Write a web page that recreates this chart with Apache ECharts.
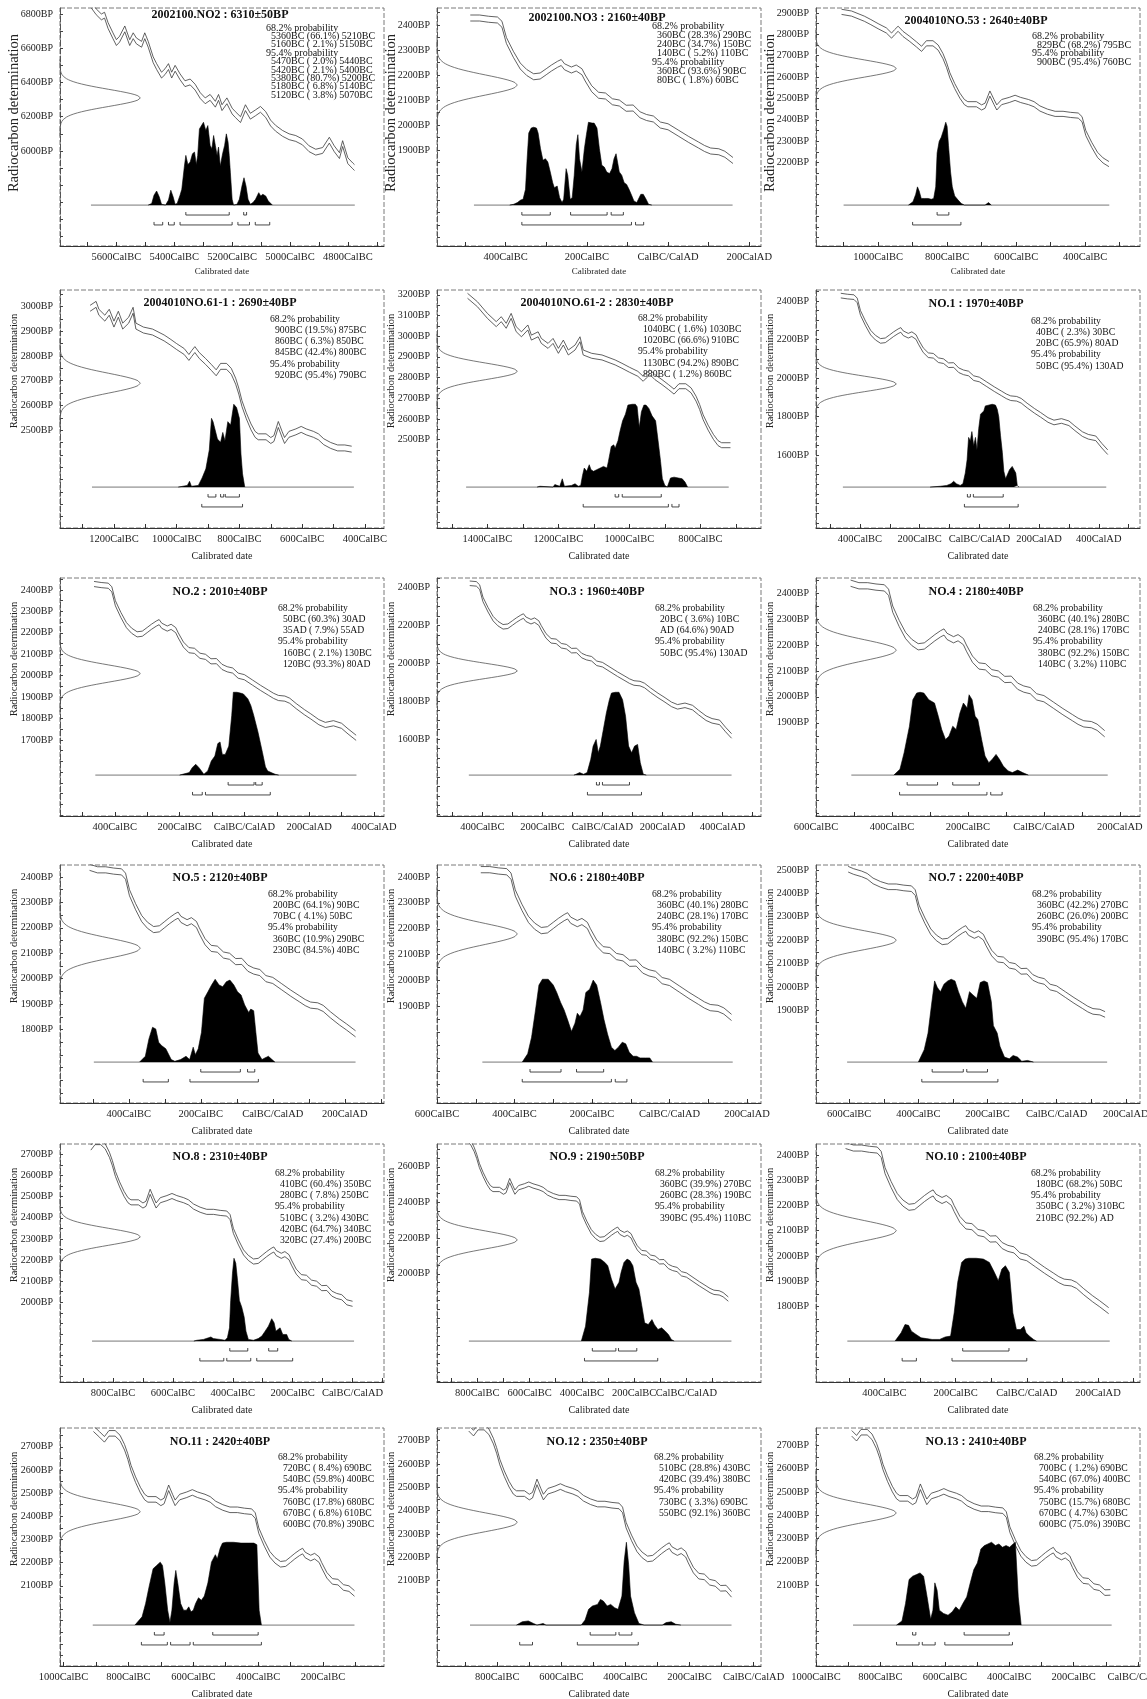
<!DOCTYPE html>
<html><head><meta charset="utf-8">
<script src="https://cdn.jsdelivr.net/npm/echarts@6.0.0/dist/echarts.min.js"></script>
<style>html,body{margin:0;padding:0;background:#fff}#chart{width:1147px;height:1699px}</style>
</head><body><div id="chart"></div>
<script>
// ---------------- DATA ----------------
const sampleNames = ['2002100.NO2','2002100.NO3','2004010NO.53','2004010NO.61-1','2004010NO.61-2','NO.1','NO.2','NO.3','NO.4','NO.5','NO.6','NO.7','NO.8','NO.9','NO.10','NO.11','NO.12','NO.13'];
const bpMeans  = [6310,2160,2640,2690,2830,1970,2010,1960,2180,2120,2180,2200,2310,2190,2100,2420,2350,2410];
const bpErrors = [50,40,40,40,40,40,40,40,40,40,40,40,40,50,40,40,40,40];

// ranges: [from, percent, to]  (negative = BC)
const ranges68 = [
 [[-5360,66.1,-5210],[-5160,2.1,-5150]],
 [[-360,28.3,-290],[-240,34.7,-150],[-140,5.2,-110]],
 [[-829,68.2,-795]],
 [[-900,19.5,-875],[-860,6.3,-850],[-845,42.4,-800]],
 [[-1040,1.6,-1030],[-1020,66.6,-910]],
 [[-40,2.3,-30],[-20,65.9,80]],
 [[-50,60.3,30],[35,7.9,55]],
 [[-20,3.6,-10],[0,64.6,90]],
 [[-360,40.1,-280],[-240,28.1,-170]],
 [[-200,64.1,-90],[-70,4.1,-50]],
 [[-360,40.1,-280],[-240,28.1,-170]],
 [[-360,42.2,-270],[-260,26.0,-200]],
 [[-410,60.4,-350],[-280,7.8,-250]],
 [[-360,39.9,-270],[-260,28.3,-190]],
 [[-180,68.2,-50]],
 [[-720,8.4,-690],[-540,59.8,-400]],
 [[-510,28.8,-430],[-420,39.4,-380]],
 [[-700,1.2,-690],[-540,67.0,-400]]
];
const ranges95 = [
 [[-5470,2.0,-5440],[-5420,2.1,-5400],[-5380,80.7,-5200],[-5180,6.8,-5140],[-5120,3.8,-5070]],
 [[-360,93.6,-90],[-80,1.8,-60]],
 [[-900,95.4,-760]],
 [[-920,95.4,-790]],
 [[-1130,94.2,-890],[-880,1.2,-860]],
 [[-50,95.4,130]],
 [[-160,2.1,-130],[-120,93.3,80]],
 [[-50,95.4,130]],
 [[-380,92.2,-150],[-140,3.2,-110]],
 [[-360,10.9,-290],[-230,84.5,-40]],
 [[-380,92.2,-150],[-140,3.2,-110]],
 [[-390,95.4,-170]],
 [[-510,3.2,-430],[-420,64.7,-340],[-320,27.4,-200]],
 [[-390,95.4,-110]],
 [[-350,3.2,-310],[-210,92.2,0]],
 [[-760,17.8,-680],[-670,6.8,-610],[-600,70.8,-390]],
 [[-730,3.3,-690],[-550,92.1,-360]],
 [[-750,15.7,-680],[-670,4.7,-630],[-600,75.0,-390]]
];

// axes
const xMins = [-5795,-569,-1180,-1372,-1542,-547,-569,-551,-600,-591,-600,-696,-977,-954,-592,-1011,-988,-1000];
const xMaxs = [-4675,229,-241,-339,-629,538,431,528,253,309,236,241,105,285,318,-12,23,6];
const yMins = [5445,1516,1810,2104,2073,1223,1345,1193,1541,1511,1528,1505,1623,1393,1500,1754,1734,1751];
const yMaxs = [6835,2468,2923,3067,3223,2457,2456,2451,2458,2447,2446,2521,2749,2728,2444,2781,2754,2776];
const yLabelFrom = [6000,1900,2200,2500,2500,1600,1700,1600,1900,1800,1900,1900,2000,2000,1800,2100,2100,2100];
const yLabelStep = [200,100,100,100,100,200,100,200,100,100,100,100,100,200,100,100,100,100];
// plotted calendar span (curve + baseline)
const spanStarts = [-5688,-478,-1100,-1270,-1460,-457,-460,-445,-507,-497,-483,-606,-870,-832,-504,-910,-885,-885];
const spanEnds   = [-4776,159,-330,-435,-720,425,346,430,168,230,163,146,5,172,233,-103,-69,-82];

// calibration curve (mid values, BP) and its 1-sigma
const calCurveEarly = [[-5687,6853],[-5670,6813],[-5652,6783],[-5641,6793],[-5629,6733],[-5612,6673],[-5600,6633],[-5589,6653],[-5571,6713],[-5554,6633],[-5542,6673],[-5531,6643],[-5513,6623],[-5502,6673],[-5490,6623],[-5473,6533],[-5461,6493],[-5444,6443],[-5432,6463],[-5420,6493],[-5409,6443],[-5397,6483],[-5380,6433],[-5363,6393],[-5345,6403],[-5328,6373],[-5310,6323],[-5293,6293],[-5276,6313],[-5258,6273],[-5247,6313],[-5235,6253],[-5218,6293],[-5200,6233],[-5189,6213],[-5171,6183],[-5154,6253],[-5137,6203],[-5119,6223],[-5102,6243],[-5084,6213],[-5067,6163],[-5050,6133],[-5026,6103],[-5003,6083],[-4980,6073],[-4957,6053],[-4934,6013],[-4911,5993],[-4887,6003],[-4864,6063],[-4847,6013],[-4829,5973],[-4818,6043],[-4800,5943],[-4783,5913],[-4777,5903]];
const calCurveEarlySigma = 17;
const calCurve = [[-1560,3253],[-1530,3233],[-1500,3218],[-1475,3210],[-1456,3195],[-1428,3154],[-1400,3098],[-1375,3058],[-1361,3082],[-1347,3050],[-1333,3098],[-1319,3034],[-1304,3009],[-1286,3042],[-1276,2993],[-1257,3009],[-1248,2977],[-1229,2953],[-1215,2977],[-1200,2929],[-1186,2969],[-1172,2921],[-1153,2945],[-1139,2985],[-1130,2921],[-1106,2905],[-1077,2897],[-1040,2873],[-1021,2857],[-1000,2838],[-976,2818],[-961,2794],[-952,2810],[-942,2826],[-928,2802],[-908,2778],[-889,2753],[-874,2732],[-860,2758],[-841,2758],[-826,2738],[-812,2698],[-802,2658],[-792,2608],[-778,2558],[-763,2513],[-750,2483],[-740,2473],[-715,2473],[-700,2458],[-690,2466],[-676,2523],[-664,2483],[-656,2458],[-642,2483],[-620,2493],[-603,2503],[-587,2493],[-564,2483],[-548,2473],[-531,2453],[-509,2438],[-487,2428],[-464,2428],[-442,2423],[-420,2420],[-409,2403],[-398,2338],[-381,2283],[-364,2236],[-348,2210],[-331,2193],[-315,2196],[-300,2213],[-287,2228],[-272,2243],[-263,2250],[-255,2233],[-238,2220],[-226,2228],[-212,2213],[-204,2188],[-188,2145],[-171,2119],[-154,2116],[-137,2093],[-120,2088],[-103,2067],[-86,2068],[-69,2041],[-53,2030],[-36,2024],[-19,2000],[0,1993],[25,1968],[50,1943],[75,1920],[90,1906],[105,1896],[125,1893],[140,1883],[160,1858],[185,1830],[205,1810],[230,1783],[250,1770],[275,1778],[300,1766],[320,1740],[345,1710],[365,1696],[390,1688],[410,1650],[430,1616],[445,1600]];
const calCurveSigma = 12;

// posterior distributions [year, relative height (peak = 100)]
const dist_2002100_NO2 = [[-5490,0],[-5478,2],[-5470,12],[-5461,17],[-5452,10],[-5444,1],[-5430,0],[-5420,6],[-5412,18],[-5404,10],[-5397,1],[-5390,2],[-5380,12],[-5374,19],[-5365,47],[-5360,60],[-5353,49],[-5345,52],[-5337,62],[-5330,64],[-5324,49],[-5319,60],[-5313,92],[-5307,94],[-5299,100],[-5291,90],[-5284,96],[-5276,72],[-5270,68],[-5264,84],[-5258,72],[-5252,60],[-5247,70],[-5241,47],[-5233,62],[-5226,72],[-5220,86],[-5214,76],[-5210,60],[-5206,39],[-5200,7],[-5195,0],[-5183,1],[-5175,7],[-5166,23],[-5159,33],[-5152,23],[-5145,7],[-5137,1],[-5128,3],[-5119,7],[-5108,15],[-5101,11],[-5094,13],[-5084,11],[-5075,5],[-5061,0]];
const dist_2002100_NO3 = [[-390,0],[-380,1],[-371,3],[-363,6],[-357,7],[-351,19],[-347,56],[-343,87],[-337,93],[-331,94],[-324,93],[-320,87],[-314,68],[-308,54],[-302,56],[-296,52],[-290,40],[-284,27],[-280,21],[-273,23],[-267,9],[-261,3],[-257,7],[-251,44],[-247,36],[-241,7],[-236,9],[-231,36],[-226,73],[-222,85],[-218,56],[-212,40],[-206,68],[-201,85],[-196,100],[-187,99],[-182,99],[-175,93],[-169,68],[-163,48],[-157,46],[-151,40],[-144,38],[-138,44],[-133,56],[-128,62],[-124,60],[-120,40],[-114,36],[-108,27],[-102,25],[-96,19],[-89,11],[-84,5],[-77,3],[-73,7],[-67,13],[-61,13],[-54,7],[-48,1],[-40,0]];
const dist_NO53 = [[-912,0],[-899,4],[-891,13],[-886,22],[-881,17],[-875,8],[-865,8],[-855,8],[-846,7],[-839,8],[-833,22],[-829,63],[-823,77],[-817,82],[-810,91],[-804,100],[-800,95],[-796,72],[-790,40],[-785,22],[-778,11],[-768,6],[-759,2],[-750,0],[-690,0],[-680,3],[-672,0]];
const dist_NO61_1 = [[-995,0],[-966,2],[-959,7],[-953,1],[-931,2],[-919,11],[-907,22],[-896,45],[-889,83],[-884,79],[-879,79],[-870,58],[-860,54],[-853,66],[-846,56],[-837,79],[-828,75],[-818,100],[-809,96],[-800,83],[-795,40],[-790,16],[-783,0]];
const dist_NO61_2 = [[-1260,0],[-1252,1],[-1215,0],[-1210,3],[-1205,1],[-1196,1],[-1189,10],[-1183,1],[-1163,2],[-1153,4],[-1144,1],[-1137,2],[-1132,14],[-1127,23],[-1120,19],[-1113,27],[-1108,21],[-1101,19],[-1092,21],[-1082,23],[-1073,25],[-1063,23],[-1059,31],[-1051,49],[-1044,51],[-1040,47],[-1032,56],[-1026,68],[-1019,80],[-1011,88],[-1004,99],[-992,100],[-983,100],[-978,97],[-975,84],[-972,72],[-966,91],[-959,99],[-953,99],[-945,95],[-936,86],[-926,80],[-919,56],[-912,31],[-907,10],[-900,2],[-893,0],[-884,11],[-874,12],[-862,11],[-851,10],[-843,6],[-836,0]];
const dist_NO1 = [[-165,0],[-131,1],[-109,2],[-95,4],[-86,7],[-77,4],[-64,2],[-55,4],[-47,17],[-41,33],[-36,60],[-30,56],[-25,67],[-19,50],[-13,60],[-8,45],[-2,71],[4,88],[9,90],[15,92],[20,98],[26,100],[43,100],[54,99],[60,94],[65,85],[71,62],[77,42],[82,19],[88,10],[94,12],[101,21],[110,25],[116,23],[122,17],[127,2],[133,0]];
const dist_NO2 = [[-200,0],[-170,3],[-161,9],[-150,13],[-140,9],[-125,1],[-113,5],[-102,17],[-91,23],[-82,38],[-75,40],[-68,25],[-59,25],[-48,35],[-39,72],[-34,100],[-23,100],[-12,99],[-3,98],[11,92],[20,84],[29,72],[42,52],[56,27],[65,10],[72,5],[83,3],[95,1],[106,0]];
const dist_NO3 = [[-95,0],[-88,1],[-76,3],[-63,1],[-51,3],[-39,19],[-31,35],[-21,43],[-14,27],[-7,35],[3,55],[13,75],[23,91],[30,99],[43,100],[55,100],[67,91],[77,71],[87,35],[97,27],[107,35],[117,37],[126,15],[136,1],[146,0]];
const dist_NO4 = [[-395,0],[-379,7],[-368,27],[-354,59],[-345,91],[-335,99],[-326,100],[-316,99],[-303,91],[-288,87],[-278,71],[-269,55],[-259,43],[-250,47],[-240,59],[-231,55],[-221,75],[-212,87],[-202,81],[-197,97],[-189,91],[-181,71],[-174,67],[-164,43],[-155,23],[-145,15],[-136,19],[-126,25],[-117,19],[-107,11],[-94,5],[-83,3],[-69,6],[-56,3],[-41,0]];
const dist_NO5 = [[-370,0],[-354,7],[-344,28],[-334,42],[-325,40],[-317,24],[-309,20],[-297,16],[-282,3],[-272,1],[-256,3],[-241,7],[-231,3],[-221,18],[-215,9],[-207,16],[-198,36],[-190,77],[-180,85],[-170,93],[-160,100],[-149,93],[-139,91],[-129,97],[-119,99],[-108,93],[-98,85],[-88,81],[-78,69],[-67,60],[-61,64],[-53,62],[-47,36],[-41,11],[-30,3],[-22,5],[-12,7],[-2,3],[6,0]];
const dist_NO6 = [[-380,0],[-366,10],[-356,30],[-347,59],[-337,93],[-328,100],[-313,100],[-300,93],[-291,84],[-281,72],[-272,63],[-263,51],[-253,37],[-244,47],[-238,59],[-231,55],[-223,63],[-216,84],[-206,88],[-197,99],[-188,93],[-178,72],[-169,51],[-160,34],[-150,18],[-141,14],[-132,18],[-122,24],[-113,22],[-104,12],[-94,7],[-85,7],[-76,5],[-62,5],[-51,5],[-44,0]];
const dist_NO7 = [[-400,0],[-383,15],[-372,35],[-362,69],[-353,98],[-345,90],[-336,85],[-326,94],[-315,98],[-305,100],[-294,98],[-284,85],[-273,73],[-263,65],[-252,85],[-242,81],[-231,77],[-221,96],[-210,98],[-200,96],[-189,73],[-183,44],[-172,35],[-164,19],[-151,6],[-137,4],[-126,8],[-113,6],[-101,1],[-84,2],[-67,0]];
const dist_NO8 = [[-530,0],[-520,1],[-498,2],[-481,4],[-473,5],[-465,3],[-442,2],[-426,1],[-418,4],[-411,16],[-407,49],[-401,82],[-396,100],[-390,94],[-384,73],[-378,49],[-370,41],[-362,29],[-356,12],[-348,2],[-331,1],[-315,3],[-303,6],[-292,12],[-281,18],[-270,27],[-262,22],[-256,12],[-249,14],[-242,16],[-233,8],[-227,10],[-220,8],[-213,2],[-203,0]];
const dist_NO9 = [[-402,0],[-386,18],[-371,59],[-363,99],[-349,100],[-329,99],[-312,95],[-301,91],[-287,75],[-273,63],[-258,71],[-250,83],[-239,95],[-227,99],[-216,97],[-205,91],[-193,71],[-182,63],[-171,43],[-160,22],[-146,20],[-132,26],[-123,20],[-109,14],[-95,16],[-81,12],[-69,8],[-58,2],[-47,0]];
const dist_NO10 = [[-370,0],[-353,10],[-342,20],[-332,19],[-324,12],[-311,8],[-297,4],[-282,3],[-266,2],[-245,2],[-229,5],[-214,6],[-204,34],[-194,71],[-183,95],[-173,99],[-163,100],[-142,100],[-122,99],[-105,95],[-91,83],[-80,73],[-70,87],[-60,91],[-49,83],[-39,34],[-29,14],[-18,14],[-8,18],[-2,10],[7,6],[19,2],[27,0]];
const dist_NO11 = [[-780,0],[-758,10],[-747,26],[-736,47],[-724,68],[-713,72],[-702,76],[-695,72],[-688,51],[-679,18],[-672,3],[-666,18],[-659,51],[-654,66],[-648,51],[-639,26],[-630,18],[-621,18],[-614,22],[-607,16],[-600,18],[-593,26],[-584,33],[-575,30],[-566,35],[-555,51],[-544,76],[-532,85],[-526,80],[-517,93],[-510,99],[-498,100],[-476,100],[-453,99],[-431,99],[-413,99],[-404,97],[-397,18],[-390,0]];
const dist_NO12 = [[-740,0],[-722,4],[-703,5],[-687,2],[-676,0],[-657,2],[-648,0],[-538,0],[-526,6],[-515,19],[-503,23],[-487,25],[-478,31],[-469,29],[-457,23],[-446,25],[-434,21],[-423,19],[-411,35],[-404,77],[-397,100],[-390,73],[-384,35],[-372,15],[-358,2],[-342,0],[-285,0],[-273,3],[-257,4],[-243,1],[-227,0]];
const dist_NO13 = [[-750,0],[-733,5],[-722,26],[-711,55],[-700,59],[-688,61],[-677,63],[-666,59],[-655,34],[-644,7],[-637,18],[-631,51],[-624,42],[-617,18],[-604,14],[-590,12],[-577,16],[-566,22],[-555,18],[-544,26],[-532,34],[-521,51],[-510,67],[-499,75],[-488,92],[-477,96],[-466,98],[-455,100],[-443,96],[-432,98],[-421,94],[-410,96],[-399,94],[-388,98],[-381,100],[-372,34],[-363,0]];
const distributions = [dist_2002100_NO2, dist_2002100_NO3, dist_NO53, dist_NO61_1, dist_NO61_2, dist_NO1, dist_NO2, dist_NO3, dist_NO4, dist_NO5, dist_NO6, dist_NO7, dist_NO8, dist_NO9, dist_NO10, dist_NO11, dist_NO12, dist_NO13];

// ---------------- LAYOUT ----------------
const COL_LEFT = [60, 437, 816];
const ROW_TOP = [8, 290, 578, 865, 1144, 1428];
const GRID_W = 324, GRID_H = 238;
const GAUSS_PEAK = 24.8;           // % of plot width
const DIST_MIN = -49.4, DIST_MAX = 238;
const BRACKET_ROWS = [-12, -24];
const titleDY = [7,10,13, 13,13,14, 14,14,14, 13,13,13, 13,13,13, 14,14,14];
const textDX = [206,215,216,210,201,215,218,218,217,208,215,216,215,218,215,218,217,218];
const textDY = [20,18,28, 29,28,31, 30,30,30, 29,29,29, 29,29,29, 29,29,29];
const textLH = [8.4,9,8.9, 11.3,11.3,11.3, 11.3,11.3,11.3, 11.3,11.3,11.3, 11.3,11.3,11.3, 11.3,11.3,11.3];
const SERIF = '"Liberation Serif","Times New Roman",serif';

function fmtYear(y){ return y < 0 ? (-y) + 'BC' : (y === 0 ? 'AD' : y + 'AD'); }
function fmtPct(p){ const s = p.toFixed(1); return p < 10 ? '( ' + s + '%)' : '(' + s + '%)'; }
function fmtAxisYear(v){ return v < 0 ? (-v) + 'CalBC' : (v === 0 ? 'CalBC/CalAD' : v + 'CalAD'); }
function multiples(from, to, step){ const out = []; for (let v = Math.ceil(from/step)*step; v <= to + 1e-9; v += step) out.push(v === 0 ? 0 : v); return out; }

const grids = [], xAxes = [], yAxes = [], series = [], graphics = [];

for (let i = 0; i < 18; i++) {
  const row = Math.floor(i/3), col = i % 3;
  const left = COL_LEFT[col], top = ROW_TOP[row];
  grids.push({ left: left, top: top, width: GRID_W, height: GRID_H, show: false, outerBoundsMode: 'none', containLabel: false });

  // frame (scanned, dashed look)
  graphics.push({ type: 'rect', silent: true, z: 0, shape: { x: left, y: top, width: GRID_W, height: GRID_H },
    style: { fill: 'none', stroke: '#7a7a7a', lineWidth: 1, lineDash: [5, 2] } });

  xAxes.push({
    type: 'value', gridIndex: i, min: xMins[i], max: xMaxs[i],
    axisLine: { show: true, onZero: false, lineStyle: { color: '#333', width: 1 } },
    axisTick: { show: true, inside: true, length: 4, customValues: multiples(xMins[i], xMaxs[i], 100), lineStyle: { color: '#333' } },
    axisLabel: { customValues: multiples(xMins[i], xMaxs[i], 200), formatter: fmtAxisYear, fontFamily: SERIF, fontSize: 10.5, color: '#222', margin: 6 },
    splitLine: { show: false }
  });
  xAxes.push({ type: 'value', gridIndex: i, min: 0, max: 100, show: false });

  yAxes.push({
    type: 'value', gridIndex: i, min: yMins[i], max: yMaxs[i],
    axisLine: { show: true, onZero: false, lineStyle: { color: '#555', width: 1, type: [6, 2] } },
    axisTick: { show: true, inside: true, length: 3, customValues: multiples(yMins[i], yMaxs[i], i === 0 ? 100 : 50), lineStyle: { color: '#444' } },
    axisLabel: { customValues: multiples(yLabelFrom[i], yMaxs[i], yLabelStep[i]), formatter: v => v + 'BP', fontFamily: SERIF, fontSize: 10, color: '#222', margin: 7 },
    splitLine: { show: false }
  });
  yAxes.push({ type: 'value', gridIndex: i, min: DIST_MIN, max: DIST_MAX, show: false });

  const xa = 2*i, ya = 2*i;
  const curve = (i === 0 ? calCurveEarly : calCurve).filter(p => p[0] >= spanStarts[i] - 12 && p[0] <= spanEnds[i] + 12);
  const sig = i === 0 ? calCurveEarlySigma : calCurveSigma;
  const lineBase = { type: 'line', showSymbol: false, symbol: 'none', silent: true, animation: false, z: 3 };

  series.push(Object.assign({}, lineBase, { xAxisIndex: xa, yAxisIndex: ya, data: curve.map(p => [p[0], p[1] + sig]), lineStyle: { color: '#3a3a3a', width: 0.8 } }));
  series.push(Object.assign({}, lineBase, { xAxisIndex: xa, yAxisIndex: ya, data: curve.map(p => [p[0], p[1] - sig]), lineStyle: { color: '#3a3a3a', width: 0.8 } }));

  // measured radiocarbon date (normal distribution of mean ± error)
  const g = [];
  for (let k = -36; k <= 36; k++) { const z = k/8; g.push([GAUSS_PEAK*Math.exp(-0.5*z*z), bpMeans[i] + z*bpErrors[i]]); }
  series.push(Object.assign({}, lineBase, { xAxisIndex: xa + 1, yAxisIndex: ya, data: g, lineStyle: { color: '#555', width: 0.8 } }));

  // baseline
  series.push(Object.assign({}, lineBase, { xAxisIndex: xa, yAxisIndex: ya + 1, data: [[spanStarts[i], 0], [spanEnds[i], 0]], lineStyle: { color: '#777', width: 1 } }));
  // posterior
  series.push(Object.assign({}, lineBase, { xAxisIndex: xa, yAxisIndex: ya + 1, data: distributions[i], lineStyle: { color: '#000', width: 0.6 }, areaStyle: { color: '#000', opacity: 1 }, z: 4 }));

  // range brackets
  const br = ranges68[i].map(r => [r[0], r[2], BRACKET_ROWS[0]]).concat(ranges95[i].map(r => [r[0], r[2], BRACKET_ROWS[1]]));
  series.push({
    type: 'custom', coordinateSystem: 'cartesian2d', xAxisIndex: xa, yAxisIndex: ya + 1, silent: true, animation: false,
    encode: { x: [0, 1], y: 2 }, data: br,
    renderItem: function (params, api) {
      const a = api.coord([api.value(0), api.value(2)]);
      const b = api.coord([api.value(1), api.value(2)]);
      return { type: 'polyline', shape: { points: [[a[0], a[1] - 3], [a[0], a[1]], [b[0], b[1]], [b[0], b[1] - 3]] }, style: { stroke: '#333', fill: 'none', lineWidth: 0.9 } };
    }
  });

  // texts
  graphics.push({ type: 'text', silent: true, style: { text: sampleNames[i] + ' : ' + bpMeans[i] + '±' + bpErrors[i] + 'BP', x: left + GRID_W/2 - 2, y: top + titleDY[i], align: 'center', verticalAlign: 'middle', font: 'bold 12px ' + SERIF, fill: '#111' } });
  const lines = [['68.2% probability', 0]].concat(ranges68[i].map(r => [fmtYear(r[0]) + ' ' + fmtPct(r[1]) + ' ' + fmtYear(r[2]), 1]))
    .concat([['95.4% probability', 0]]).concat(ranges95[i].map(r => [fmtYear(r[0]) + ' ' + fmtPct(r[1]) + ' ' + fmtYear(r[2]), 1]));
  const fs = row === 0 ? 10 : 9.7;
  lines.forEach((ln, k) => {
    graphics.push({ type: 'text', silent: true, style: { text: ln[0], x: left + textDX[i] + (ln[1] ? 5 : 0), y: top + textDY[i] + k*textLH[i], align: 'left', verticalAlign: 'middle', font: fs + 'px ' + SERIF, fill: '#111' } });
  });
  graphics.push({ type: 'text', silent: true, x: left - 46, y: top + (row === 0 ? 105 : 81), rotation: Math.PI/2,
    style: { text: 'Radiocarbon determination', x: 0, y: 0, align: 'center', verticalAlign: 'middle', font: (row === 0 ? 14.5 : 10.5) + 'px ' + SERIF, fill: '#222' } });
  graphics.push({ type: 'text', silent: true, style: { text: 'Calibrated date', x: left + GRID_W/2, y: top + GRID_H + (row === 0 ? 26 : 28.5), align: 'center', verticalAlign: 'middle', font: (row === 0 ? 9 : 10) + 'px ' + SERIF, fill: '#222' } });
}

const chart = echarts.init(document.getElementById('chart'), null, { renderer: 'canvas' });
chart.setOption({ animation: false, backgroundColor: '#fff', grid: grids, xAxis: xAxes, yAxis: yAxes, series: series, graphic: graphics });
</script></body></html>
